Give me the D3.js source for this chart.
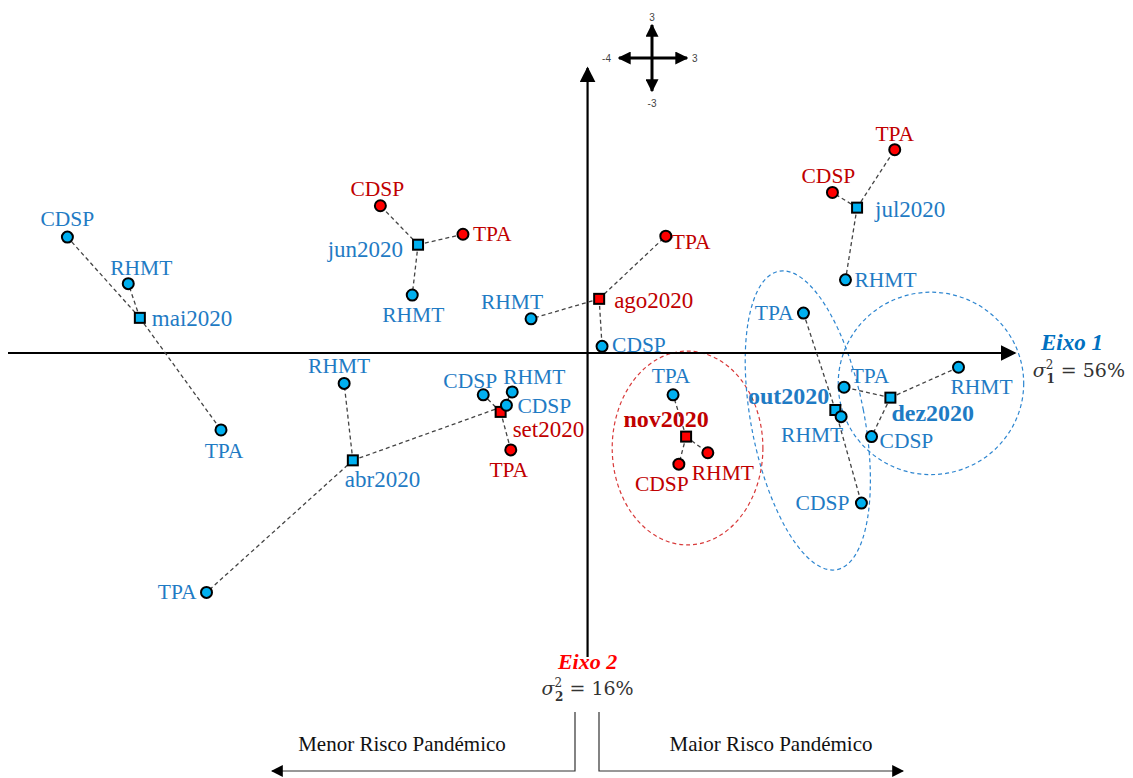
<!DOCTYPE html>
<html>
<head>
<meta charset="utf-8">
<script src="https://cdn.jsdelivr.net/npm/d3@7"></script>
<style>
  body { margin: 0; background: #fff; }
  svg { display: block; font-family: "Liberation Serif", "Times New Roman", serif; }
</style>
</head>
<body>
<div id="chart"></div>
<script>
'use strict';

// mean position of each month (square) and risk colour group
var months = ['abr2020', 'mai2020', 'jun2020', 'jul2020', 'ago2020', 'set2020', 'out2020', 'nov2020', 'dez2020'];
var monthX = [-1.62, -3.09, -1.17, 1.86, 0.08, -0.60, 1.71, 0.68, 2.09];
var monthY = [-1.13, 0.37, 1.14, 1.53, 0.57, -0.62, -0.60, -0.88, -0.47];
var monthGroup = ['low', 'low', 'low', 'low', 'high', 'high', 'low', 'high', 'low'];
var monthBold = [false, false, false, false, false, false, true, true, true];

// partial points: indicator per month
var variables = ['CDSP', 'RHMT', 'TPA'];
var pointX = {
    abr2020: [-0.56, -1.68, -2.63],
    mai2020: [-3.59, -3.17, -2.53],
    jun2020: [-1.43, -1.21, -0.86],
    jul2020: [1.69, 1.78, 2.12],
    ago2020: [0.10, -0.39, 0.54],
    set2020: [-0.72, -0.52, -0.53],
    out2020: [1.89, 1.75, 1.49],
    nov2020: [0.63, 0.83, 0.59],
    dez2020: [1.96, 2.56, 1.77]
};
var pointY = {
    abr2020: [-0.55, -0.32, -2.52],
    mai2020: [1.22, 0.73, -0.81],
    jun2020: [1.55, 0.61, 1.25],
    jul2020: [1.69, 0.77, 2.14],
    ago2020: [0.07, 0.36, 1.23],
    set2020: [-0.44, -0.41, -1.02],
    out2020: [-1.58, -0.67, 0.42],
    nov2020: [-1.17, -1.05, -0.44],
    dez2020: [-0.88, -0.15, -0.36]
};
var pointGroup = {
    abr2020: ['low', 'low', 'low'],
    mai2020: ['low', 'low', 'low'],
    jun2020: ['high', 'low', 'high'],
    jul2020: ['high', 'low', 'high'],
    ago2020: ['low', 'low', 'high'],
    set2020: ['low', 'low', 'high'],
    out2020: ['low', 'low', 'low'],
    nov2020: ['high', 'high', 'low'],
    dez2020: ['low', 'low', 'low']
};

// clusters circled on the map: centre and half-axes in plot units
var clusterNames = ['nov', 'out', 'dez'];
var clusterCX = [0.69, 1.52, 2.37];
var clusterCY = [-1.00, -0.71, -0.32];
var clusterRX = [0.52, 0.39, 0.64];
var clusterRY = [1.02, 1.60, 0.96];
var clusterTilt = [0, -11, 0];
var clusterGroup = ['high', 'low', 'low'];

var xAxisLabel = 'Eixo 1', xAxisVar = '56%';
var yAxisLabel = 'Eixo 2', yAxisVar = '16%';
var riskLow = 'Menor Risco Pandémico', riskHigh = 'Maior Risco Pandémico';

// label placement [dx, dy, anchor]
var monthLabelPos = {
    abr2020: [-8, 27, 'start'], mai2020: [12, 8, 'start'], jun2020: [-15, 12, 'end'],
    jul2020: [18, 9, 'start'], ago2020: [15, 9, 'start'], set2020: [12, 25, 'start'],
    out2020: [-6, -6, 'end'], nov2020: [-20, -10, 'middle'], dez2020: [1, 23, 'start']
};
var pointLabelPos = {
    abr2020: [[11, 8, 'start'], [-5, -10, 'middle'], [-10, 7, 'end']],
    mai2020: [[0, -11, 'middle'], [13, -9, 'middle'], [3, 28, 'middle']],
    jun2020: [[-3, -10, 'middle'], [1, 27, 'middle'], [10, 7, 'start']],
    jul2020: [[-4, -9, 'middle'], [9, 7, 'start'], [0, -9, 'middle']],
    ago2020: [[10, 6, 'start'], [-19, -10, 'middle'], [6, 13, 'start']],
    set2020: [[-13, -7, 'middle'], [22, -8, 'middle'], [-2, 27, 'middle']],
    out2020: [[-12, 7, 'end'], [-29, 25, 'middle'], [-10, 7, 'end']],
    nov2020: [[-17, 27, 'middle'], [15, 27, 'middle'], [-2, -12, 'middle']],
    dez2020: [[8, 11, 'start'], [23, 27, 'middle'], [26, -4, 'middle']]
};

var W = 1133, H = 778;
var fill = { low: '#00b0f0', high: '#ff0000' };
var ink = { low: '#1f7bc4', high: '#c00000' };
var ring = { low: '#2e86d0', high: '#d83a3a' };

var x = d3.scaleLinear().domain([-4, 2.95]).range([8, 1015]);
var y = d3.scaleLinear().domain([-3.2, 3]).range([657, 68]);

var svg = d3.select('#chart').append('svg').attr('width', W).attr('height', H);

var defs = svg.append('defs');
function marker(id, size) {
    defs.append('marker')
        .attr('id', id)
        .attr('viewBox', '0 0 10 10')
        .attr('refX', 9).attr('refY', 5)
        .attr('markerUnits', 'userSpaceOnUse')
        .attr('markerWidth', size).attr('markerHeight', size)
        .attr('orient', 'auto')
        .append('path').attr('d', 'M0,0 L10,5 L0,10 Z').attr('fill', '#000');
}
marker('arrowBig', 16);
marker('arrowMid', 13);
marker('arrowSmall', 12);

// cluster ellipses
clusterNames.forEach(function(n, i) {
    var cx = x(clusterCX[i]), cy = y(clusterCY[i]);
    svg.append('ellipse')
        .attr('cx', cx).attr('cy', cy)
        .attr('rx', x(clusterRX[i]) - x(0))
        .attr('ry', y(0) - y(clusterRY[i]))
        .attr('transform', 'rotate(' + clusterTilt[i] + ',' + cx + ',' + cy + ')')
        .style('fill', 'none')
        .style('stroke', ring[clusterGroup[i]])
        .style('stroke-width', 1.2)
        .style('stroke-dasharray', '4 3');
});

// axes
svg.append('line')
    .attr('x1', x(-4)).attr('x2', x(2.95))
    .attr('y1', y(0)).attr('y2', y(0))
    .style('stroke', '#000').style('stroke-width', 2.2)
    .attr('marker-end', 'url(#arrowBig)');
svg.append('line')
    .attr('x1', x(0)).attr('x2', x(0))
    .attr('y1', y(-3.2)).attr('y2', y(3))
    .style('stroke', '#000').style('stroke-width', 2.2)
    .attr('marker-end', 'url(#arrowBig)');

// build flat lists
var points = [];
months.forEach(function(m, i) {
    variables.forEach(function(v, j) {
        points.push({
            month: m, name: v,
            x: pointX[m][j], y: pointY[m][j],
            mx: monthX[i], my: monthY[i],
            group: pointGroup[m][j],
            pos: pointLabelPos[m][j]
        });
    });
});

// connector lines
svg.append('g').selectAll('line').data(points).join('line')
    .attr('x1', function(d) { return x(d.mx); })
    .attr('y1', function(d) { return y(d.my); })
    .attr('x2', function(d) { return x(d.x); })
    .attr('y2', function(d) { return y(d.y); })
    .style('stroke', '#444')
    .style('stroke-width', 1.3)
    .style('stroke-dasharray', '4 3');

// month squares
var sq = 10;
svg.append('g').selectAll('rect').data(months).join('rect')
    .attr('x', function(d, i) { return x(monthX[i]) - sq / 2; })
    .attr('y', function(d, i) { return y(monthY[i]) - sq / 2; })
    .attr('width', sq).attr('height', sq)
    .style('fill', function(d, i) { return fill[monthGroup[i]]; })
    .style('stroke', '#000').style('stroke-width', 2);

// indicator points
svg.append('g').selectAll('circle').data(points).join('circle')
    .attr('cx', function(d) { return x(d.x); })
    .attr('cy', function(d) { return y(d.y); })
    .attr('r', 5.5)
    .style('fill', function(d) { return fill[d.group]; })
    .style('stroke', '#000').style('stroke-width', 2);

// point labels
svg.append('g').selectAll('text').data(points).join('text')
    .attr('x', function(d) { return x(d.x) + d.pos[0]; })
    .attr('y', function(d) { return y(d.y) + d.pos[1]; })
    .attr('text-anchor', function(d) { return d.pos[2]; })
    .style('font-size', '21.5px')
    .style('fill', function(d) { return ink[d.group]; })
    .text(function(d) { return d.name; });

// month labels
svg.append('g').selectAll('text').data(months).join('text')
    .attr('x', function(d, i) { return x(monthX[i]) + monthLabelPos[d][0]; })
    .attr('y', function(d, i) { return y(monthY[i]) + monthLabelPos[d][1]; })
    .attr('text-anchor', function(d) { return monthLabelPos[d][2]; })
    .style('font-size', function(d, i) { return monthBold[i] ? '24px' : '23px'; })
    .style('font-weight', function(d, i) { return monthBold[i] ? 'bold' : 'normal'; })
    .style('fill', function(d, i) { return ink[monthGroup[i]]; })
    .text(function(d) { return d; });

// axis titles
function sigma(g, px, py, anchor, idx, val) {
    var t = g.append('text')
        .attr('x', px).attr('y', py)
        .attr('text-anchor', anchor)
        .style('font-family', '"DejaVu Serif", serif')
        .style('font-size', '19px')
        .style('fill', '#333');
    t.append('tspan').style('font-style', 'italic').text('σ');
    t.append('tspan').attr('dy', -8).style('font-size', '12px').text('2');
    t.append('tspan').attr('dx', -7).attr('dy', 14).style('font-size', '12px').style('font-weight', 'bold').text(idx);
    t.append('tspan').attr('dy', -6).text(' = ' + val);
}

svg.append('text')
    .attr('x', 1103).attr('y', 350)
    .attr('text-anchor', 'end')
    .style('font-size', '23px').style('font-weight', 'bold').style('font-style', 'italic')
    .style('fill', '#0070c0')
    .text(xAxisLabel);
sigma(svg, 1125, 377, 'end', '1', xAxisVar);

svg.append('text')
    .attr('x', x(0)).attr('y', 669)
    .attr('text-anchor', 'middle')
    .style('font-size', '22px').style('font-weight', 'bold').style('font-style', 'italic')
    .style('fill', '#ff0000')
    .text(yAxisLabel);
sigma(svg, x(0), 695, 'middle', '2', yAxisVar);

// risk direction brackets
var risk = svg.append('g').style('stroke', '#333').style('stroke-width', 1.2).style('fill', 'none');
risk.append('polyline').attr('points', '575,712 575,771 272,771').attr('marker-end', 'url(#arrowSmall)');
risk.append('polyline').attr('points', '599,712 599,771 903,771').attr('marker-end', 'url(#arrowSmall)');
svg.append('text').attr('x', 402).attr('y', 751).attr('text-anchor', 'middle')
    .style('font-size', '21px').style('fill', '#111').text(riskLow);
svg.append('text').attr('x', 771).attr('y', 751).attr('text-anchor', 'middle')
    .style('font-size', '21px').style('fill', '#111').text(riskHigh);

// compass rose showing the axes ranges
var compass = svg.append('g').style('stroke', '#000').style('stroke-width', 3);
compass.append('line').attr('x1', 652).attr('y1', 58).attr('x2', 687).attr('y2', 58).attr('marker-end', 'url(#arrowMid)');
compass.append('line').attr('x1', 652).attr('y1', 58).attr('x2', 619).attr('y2', 58).attr('marker-end', 'url(#arrowMid)');
compass.append('line').attr('x1', 652).attr('y1', 58).attr('x2', 652).attr('y2', 25).attr('marker-end', 'url(#arrowMid)');
compass.append('line').attr('x1', 652).attr('y1', 58).attr('x2', 652).attr('y2', 91).attr('marker-end', 'url(#arrowMid)');
var cl = svg.append('g').style('font-family', '"Liberation Sans", sans-serif').style('font-size', '10px').style('fill', '#444');
cl.append('text').attr('x', 652).attr('y', 21).attr('text-anchor', 'middle').text(y.domain()[1] | 0);
cl.append('text').attr('x', 652).attr('y', 107).attr('text-anchor', 'middle').text('-3');
cl.append('text').attr('x', 611).attr('y', 62).attr('text-anchor', 'end').text(x.domain()[0]);
cl.append('text').attr('x', 692).attr('y', 62).attr('text-anchor', 'start').text('3');
</script>
</body>
</html>
